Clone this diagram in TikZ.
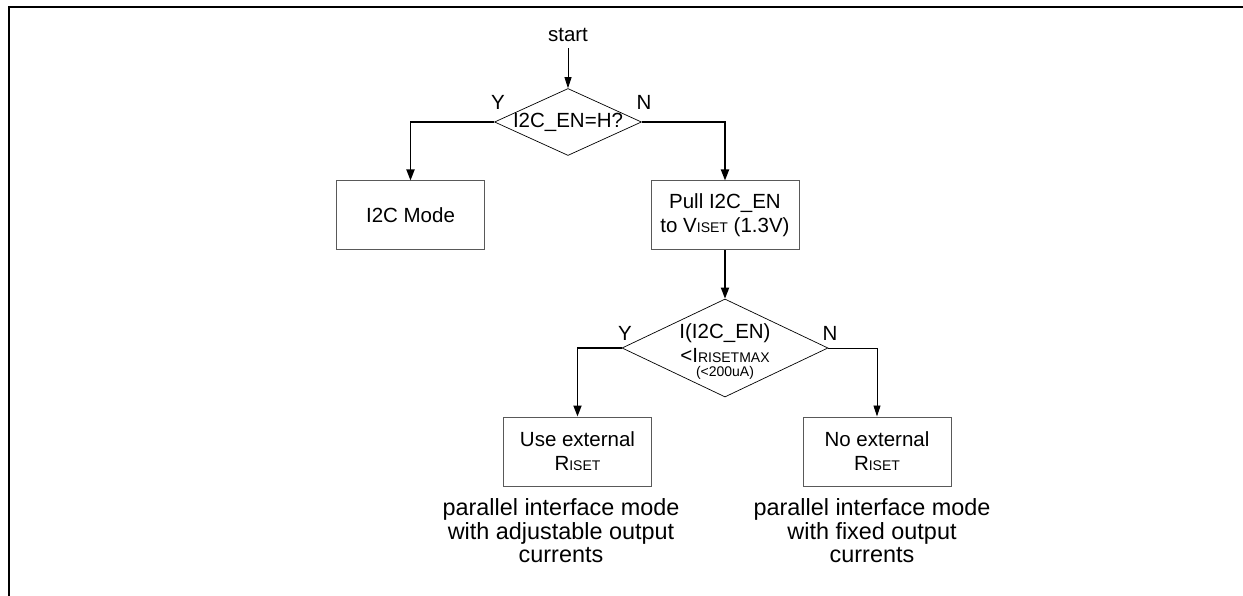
\documentclass[tikz,border=0pt]{standalone}
\usepackage{fontspec}
\setmainfont{Liberation Sans}
\usetikzlibrary{shapes.geometric,arrows.meta}
\newcommand\smf{\fontsize{14}{16}\selectfont}
\begin{document}
\begin{tikzpicture}[x=1pt,y=-1pt,
  every node/.style={font=\fontsize{20.5}{24}\selectfont, inner sep=0pt},
  box/.style={draw=black!65, line width=1pt, minimum width=148pt, minimum height=69pt, align=center},
  dec/.style={draw, shape=diamond, line width=0.7pt, inner sep=0pt},
  thinarrow/.style={line width=0.8pt, -{Triangle[length=11pt,width=7pt]}},
  thickarrow/.style={line width=1.8pt, -{Triangle[length=11pt,width=8pt]}},
  bottomtext/.style={anchor=base, font=\fontsize{23.4}{23.7}\selectfont}]
\useasboundingbox (0,0) rectangle (1243,596);
% frame
\draw[line width=2pt] (9,597) -- (9,7) -- (1244,7);
% nodes
\node[anchor=base] (start) at (568,42) {start};
\node[dec, minimum width=147pt, minimum height=67pt] (d1) at (568,122) {\makebox[0pt]{I2C\_EN=H?}};
\node[anchor=base] (y1) at (498,110) {Y};
\node[anchor=base] (n1) at (644,110) {N};
\node[box] (i2c) at (410.5,215.5) {I2C Mode};
\node[box] (pull) at (725,215.5) {Pull I2C\_EN\\to V{\smf ISET} (1.3V)};
\node[dec, minimum width=206pt, minimum height=98pt] (d2) at (725,348) {};
\node[anchor=base] (d2t) at (725,338) {\begin{tabular}[t]{@{}c@{}}I(I2C\_EN)\\<I{\smf RISETMAX}\\[-10pt]{\smf (<200uA)}\end{tabular}};
\node[anchor=base] (y2) at (625,340) {Y};
\node[anchor=base] (n2) at (830,340) {N};
\node[box] (useext) at (577.5,451.5) {Use external\\R{\smf ISET}};
\node[box] (noext) at (877,451.5) {No external\\R{\smf ISET}};
\node[bottomtext] (t1) at (561,515) {\begin{tabular}[t]{@{}c@{}}parallel interface mode\\with adjustable output\\currents\end{tabular}};
\node[bottomtext] (t2) at (872,515) {\begin{tabular}[t]{@{}c@{}}parallel interface mode\\with fixed output\\currents\end{tabular}};
% connectors
\draw[thinarrow, shorten <=6pt] (start.south) -- (d1.north);
\draw[thickarrow] (d1.west) -| (i2c.north);
\draw[thickarrow] (d1.east) -| (pull.north);
\draw[thickarrow] (pull.south) -- (d2.north);
\draw[thickarrow] (d2.west) -| (useext.north);
\draw[thinarrow] (d2.east) -| (noext.north);
\end{tikzpicture}
\end{document}
